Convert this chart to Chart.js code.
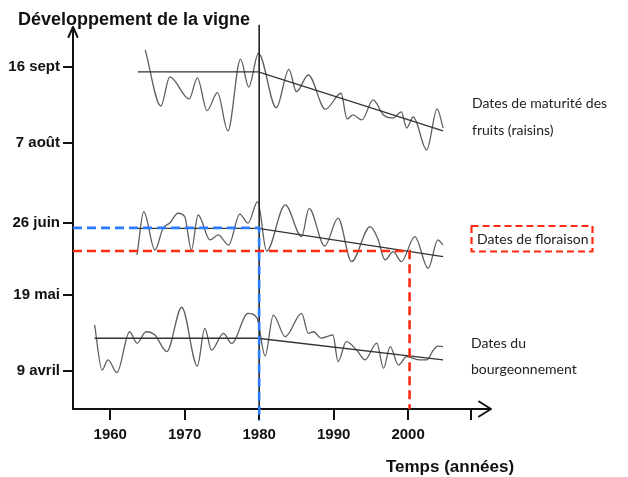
<!DOCTYPE html>
<html><head><meta charset="utf-8">
<script src="https://cdn.jsdelivr.net/npm/chart.js@4/dist/chart.umd.min.js"></script>
<style>html,body{margin:0;padding:0;background:#fff}</style>
</head><body>
<canvas id="c" width="628" height="477"></canvas>
<script>
// ---- data (year, day of year) ----
const maturityYears = [1964.7,1966.8,1968.0,1970.6,1971.7,1973.0,1974.4,1975.8,1977.5,1978.6,1979.9,1982.3,1984.0,1985.0,1986.6,1988.9,1991.0,1991.8,1992.6,1993.8,1995.3,1996.7,1998.0,1999.1,1999.8,2000.7,2002.5,2003.9,2004.7];
const maturityDays  = [267.8,238.3,253.6,242.0,253.1,235.9,245.3,225.2,262.9,248.2,266.0,237.4,257.6,245.8,254.6,236.6,245.0,231.5,233.6,231.0,241.5,233.6,232.0,235.2,226.7,232.5,215.2,236.8,226.8];
const maturityTrendYears = [1963.7,1979.9,2004.7];
const maturityTrendDays  = [256.2,256.2,225.2];

const floweringYears = [1963.6,1964.5,1966.0,1967.1,1968.0,1969.1,1970.0,1970.9,1971.8,1973.4,1974.5,1975.9,1977.4,1978.5,1979.8,1981.0,1983.5,1985.7,1986.7,1988.8,1990.6,1992.4,1994.9,1995.9,1996.9,1998.0,1999.1,2000.9,2002.7,2004.0,2004.7];
const floweringDays  = [160.0,182.7,162.6,174.0,176.8,181.9,180.1,162.6,181.0,167.9,170.5,165.2,181.4,176.7,188.0,162.0,186.3,169.6,184.5,164.7,179.3,156.5,174.9,168.9,157.4,161.7,156.5,169.6,153.0,167.9,165.3];
const floweringTrendYears = [1962.9,1979.9,2004.7];
const floweringTrendDays  = [174.0,174.0,159.1];

const buddingYears = [1957.9,1958.9,1959.7,1960.9,1962.6,1963.6,1964.8,1966.0,1967.6,1969.6,1971.7,1972.7,1973.6,1975.2,1976.3,1978.5,1979.7,1980.8,1981.9,1983.5,1985.7,1986.6,1987.3,1988.3,1989.9,1990.6,1991.7,1993.1,1994.2,1995.8,1996.7,1997.6,1998.7,1999.8,2001.6,2002.5,2003.4,2004.0,2004.7];
const buddingDays  = [123.2,99.5,104.8,98.1,119.6,113.6,119.6,117.9,109.2,132.5,101.6,121.4,110.0,118.8,113.5,129.3,126.9,106.9,128.4,117.0,129.3,118.8,119.6,116.3,117.9,103.9,114.4,110.0,104.8,113.6,100.4,111.8,102.1,106.5,104.8,104.8,110.0,112.1,111.8];
const buddingTrendYears = [1957.9,1979.8,2004.7];
const buddingTrendDays  = [116.2,116.2,104.8];

// reference guides
const breakYears = [1980,1980];
const breakDays  = [281,79];
const blueGuideYears = [1955,1980,1980];
const blueGuideDays  = [174.2,174.2,73];
const redGuideYears  = [1955,2000.2,2000.2];
const redGuideDays   = [162.1,162.1,79];

// ticks
const xTickYears  = [1960,1970,1980,1990,2000,2008.5];
const xTickLabels = ['1960','1970','1980','1990','2000',''];
const yTickDays   = [99,139,177,219,259];
const yTickLabels = ['9 avril','19 mai','26 juin','7 août','16 sept'];

const pts = (xs, ys) => xs.map((x, i) => ({x: x, y: ys[i]}));

const SANS = "'Liberation Sans',Arial,sans-serif";
const SOFT = "Lato,'Open Sans',sans-serif";
const INK = '#111';

const curve = (xs, ys, order) => ({data: pts(xs, ys), borderColor: '#5e5e5e', borderWidth: 1.3, pointRadius: 0, cubicInterpolationMode: 'monotone', order: order});
const straight = (xs, ys, color, width, dash, order) => ({data: pts(xs, ys), borderColor: color, borderWidth: width, borderDash: dash, pointRadius: 0, tension: 0, order: order, clip: false});

const decor = {
  id: 'decor',
  afterDraw(chart) {
    const ctx = chart.ctx, a = chart.chartArea;
    ctx.save();
    ctx.strokeStyle = INK; ctx.lineWidth = 2; ctx.lineCap = 'round'; ctx.lineJoin = 'round';
    // y arrow
    ctx.beginPath();
    ctx.moveTo(a.left - 4.5, a.top + 9); ctx.lineTo(a.left, a.top - 1); ctx.lineTo(a.left + 4.5, a.top + 9);
    ctx.stroke();
    // x arrow
    ctx.beginPath();
    ctx.moveTo(a.right - 11, a.bottom - 7.5); ctx.lineTo(a.right + 1, a.bottom); ctx.lineTo(a.right - 11, a.bottom + 7.5);
    ctx.stroke();
    // title
    ctx.fillStyle = INK;
    ctx.textBaseline = 'alphabetic';
    ctx.textAlign = 'left';
    ctx.font = "bold 18px " + SANS;
    ctx.fillText('Développement de la vigne', 18, 25);
    // x title
    ctx.textAlign = 'center';
    ctx.font = "bold 17px " + SANS;
    ctx.fillText('Temps (années)', 450, 472);
    // series labels
    ctx.textAlign = 'left'; ctx.textBaseline = 'middle';
    ctx.fillStyle = '#222';
    ctx.font = "14px " + SOFT;
    ctx.fillText('Dates de maturité des', 472, 103);
    ctx.fillText('fruits (raisins)', 472, 130);
    ctx.fillText('Dates de floraison', 477, 239);
    ctx.fillText('Dates du', 471, 343);
    ctx.fillText('bourgeonnement', 471, 369);
    // dashed box
    ctx.strokeStyle = '#ff2a12'; ctx.lineWidth = 2.2; ctx.lineCap = 'butt';
    ctx.setLineDash([7, 4]);
    ctx.strokeRect(471.5, 226, 121, 25.5);
    ctx.restore();
  }
};

new Chart(document.getElementById('c'), {
  type: 'line',
  data: {
    datasets: [
      straight(blueGuideYears, blueGuideDays, '#2a7bff', 2.6, [9, 5], 0),
      straight(redGuideYears, redGuideDays, '#ff2a12', 2.6, [9, 5], 0),
      straight(maturityTrendYears, maturityTrendDays, '#333', 1.3, [], 1),
      straight(floweringTrendYears, floweringTrendDays, '#333', 1.3, [], 1),
      straight(buddingTrendYears, buddingTrendDays, '#333', 1.3, [], 1),
      straight(breakYears, breakDays, '#222', 1.6, [], 2),
      curve(maturityYears, maturityDays, 3),
      curve(floweringYears, floweringDays, 3),
      curve(buddingYears, buddingDays, 3)
    ]
  },
  options: {
    responsive: false,
    animation: false,
    events: [],
    layout: {padding: {left: 0, right: 138, top: 28, bottom: 0}},
    plugins: {legend: {display: false}, tooltip: {enabled: false}, title: {display: false}},
    scales: {
      x: {
        type: 'linear', min: 1955, max: 2011,
        afterBuildTicks: s => { s.ticks = xTickYears.map(v => ({value: v})); },
        afterFit: s => { s.height = 68; },
        ticks: {callback: (v, i) => xTickLabels[i], color: INK, font: {family: SANS, size: 15, weight: 'bold'}, padding: 6, maxRotation: 0, autoSkip: false},
        grid: {display: true, drawOnChartArea: false, drawTicks: true, tickLength: 11, color: INK, lineWidth: 2},
        border: {display: true, color: INK, width: 2}
      },
      y: {
        type: 'linear', min: 79, max: 279.3,
        afterBuildTicks: s => { s.ticks = yTickDays.map(v => ({value: v})); },
        afterFit: s => { s.width = 73; },
        ticks: {callback: (v, i) => yTickLabels[i], color: INK, font: {family: SANS, size: 15, weight: 'bold'}, padding: 3, autoSkip: false},
        grid: {display: true, drawOnChartArea: false, drawTicks: true, tickLength: 10, color: INK, lineWidth: 2},
        border: {display: true, color: INK, width: 2}
      }
    }
  },
  plugins: [decor]
});
</script>
</body></html>
